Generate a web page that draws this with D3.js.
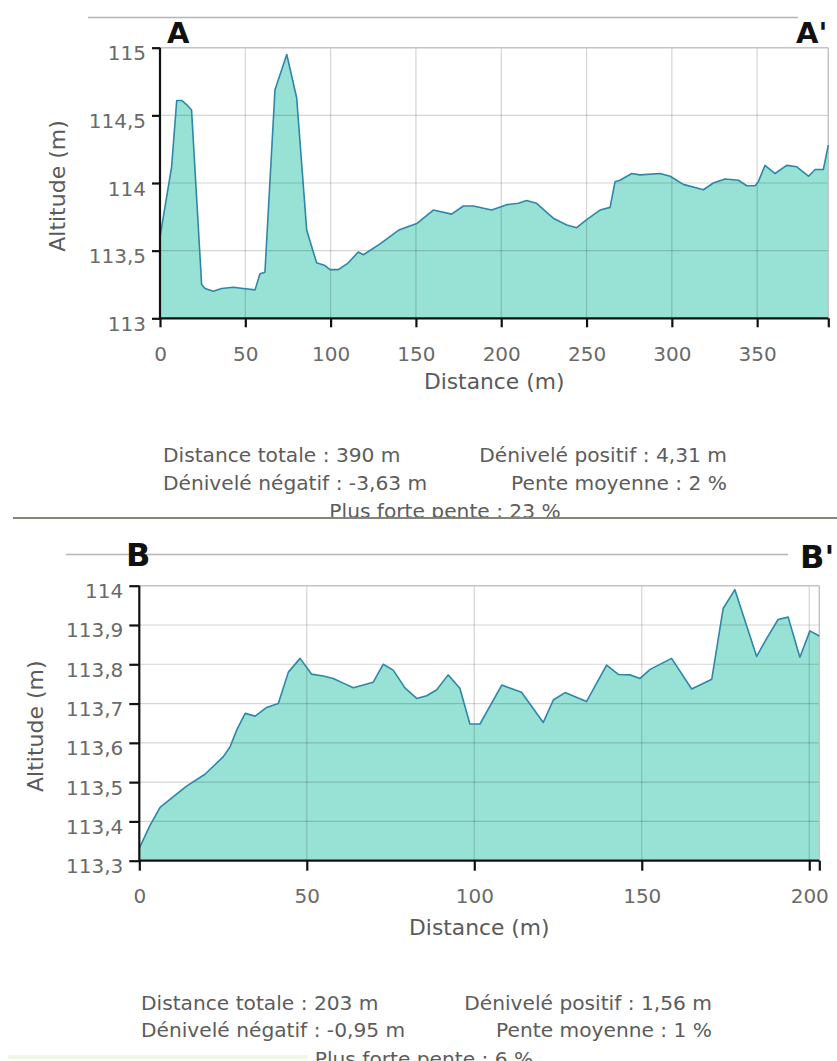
<!DOCTYPE html>
<html>
<head>
<meta charset="utf-8">
<script src="https://cdn.jsdelivr.net/npm/d3@7"></script>
<style>
  html, body { margin: 0; padding: 0; background: #fff; }
  svg { display: block; font-family: "DejaVu Sans", Verdana, sans-serif; }
</style>
</head>
<body>
<svg id="chart" width="837" height="1061"></svg>
<script>
// ---------- DATA ----------
const distA = [0, 6.8, 9.8, 12.7, 15.6, 18.5, 24.4, 26.4, 31.3, 36.1, 43, 48.8, 55.7, 58.6, 61.5, 67.4, 74.3, 80.1, 86, 91.8, 96.7, 99.6, 104.5, 110.4, 116.2, 119.2, 129, 139.7, 143.6, 150.5, 160.2, 170.9, 177.8, 183.7, 194.4, 203.2, 210, 214.8, 220.7, 230.5, 238.4, 244.2, 250.1, 257.9, 263.8, 266.7, 269.6, 276.5, 281.4, 293.1, 299, 306.7, 318.5, 324.3, 331.2, 339, 343.9, 348.8, 350.7, 354.6, 360.5, 367.3, 373.2, 380.1, 384, 388.8, 391.7];
const altA = [113.6, 114.12, 114.61, 114.61, 114.58, 114.54, 113.25, 113.22, 113.2, 113.22, 113.23, 113.22, 113.21, 113.33, 113.34, 114.69, 114.95, 114.63, 113.65, 113.41, 113.39, 113.36, 113.36, 113.41, 113.49, 113.47, 113.55, 113.65, 113.67, 113.7, 113.8, 113.77, 113.83, 113.83, 113.8, 113.84, 113.85, 113.87, 113.85, 113.74, 113.69, 113.67, 113.73, 113.8, 113.82, 114.01, 114.02, 114.07, 114.06, 114.07, 114.05, 113.99, 113.95, 114.0, 114.03, 114.02, 113.98, 113.98, 114.01, 114.13, 114.07, 114.13, 114.12, 114.05, 114.1, 114.1, 114.28];
const xTicksA = [0, 50, 100, 150, 200, 250, 300, 350];
const yTicksA = [113, 113.5, 114, 114.5, 115];
const statsA = ["Distance totale : 390 m", "Dénivelé positif : 4,31 m", "Dénivelé négatif : -3,63 m", "Pente moyenne : 2 %", "Plus forte pente : 23 %"];

const distB = [0, 3.2, 6.2, 11.2, 14.1, 19.6, 25.1, 27.1, 29.1, 31.6, 34.6, 38, 41.5, 44.5, 48, 51.4, 54.9, 57.9, 60.9, 63.9, 66.9, 69.8, 72.8, 75.8, 79.3, 82.8, 85.8, 88.8, 92.2, 95.7, 98.7, 101.7, 108.2, 114.1, 120.6, 123.6, 127.1, 133.5, 139.5, 143, 146.5, 149.5, 152.5, 158.9, 164.9, 170.9, 174.3, 177.8, 184.3, 187.3, 190.7, 193.7, 197.2, 200.2, 203];
const altB = [113.332, 113.39, 113.436, 113.47, 113.49, 113.52, 113.565, 113.59, 113.633, 113.675, 113.668, 113.69, 113.70, 113.78, 113.815, 113.775, 113.77, 113.764, 113.752, 113.74, 113.747, 113.754, 113.80, 113.785, 113.74, 113.713, 113.72, 113.735, 113.773, 113.739, 113.648, 113.648, 113.747, 113.729, 113.652, 113.709, 113.728, 113.705, 113.798, 113.774, 113.773, 113.764, 113.787, 113.815, 113.737, 113.762, 113.942, 113.99, 113.82, 113.866, 113.914, 113.92, 113.818, 113.885, 113.872];
const xTicksB = [0, 50, 100, 150, 200];
const yTicksB = [113.3, 113.4, 113.5, 113.6, 113.7, 113.8, 113.9, 114];
const statsB = ["Distance totale : 203 m", "Dénivelé positif : 1,56 m", "Dénivelé négatif : -0,95 m", "Pente moyenne : 1 %", "Plus forte pente : 6 %"];

const labelsA = ["A", "A'"];
const labelsB = ["B", "B'"];
const axisTitles = ["Distance (m)", "Altitude (m)"];

// ---------- DRAWING ----------
const svg = d3.select("#chart");
const fmt = d => String(+(+d).toFixed(1)).replace(".", ",");

function drawProfile(dist, alt, xTicks, yTicks, stats, labels, L) {
  const g = svg.append("g");
  const xMax = dist[dist.length - 1];
  const x = d3.scaleLinear().domain([0, xMax]).range([L.left, L.right]);
  const y = d3.scaleLinear().domain([yTicks[0], yTicks[yTicks.length - 1]]).range([L.bottom, L.top]);
  const pts = dist.map((d, i) => [d, alt[i]]);

  // header line + letters
  g.append("line").attr("x1", L.hx1).attr("x2", L.hx2).attr("y1", L.hy).attr("y2", L.hy)
    .attr("stroke", "#b5b5b5").attr("stroke-width", 1.5);
  g.append("text").attr("x", L.lx).attr("y", L.ly).text(labels[0])
    .attr("font-weight", "bold").attr("font-size", L.lsize).attr("fill", "#111");
  g.append("text").attr("x", L.rx).attr("y", L.ry).text(labels[1])
    .attr("font-weight", "bold").attr("font-size", L.lsize).attr("fill", "#111");

  // area
  const area = d3.area().x(d => x(d[0])).y0(y.range()[0]).y1(d => y(d[1]));
  const line = d3.line().x(d => x(d[0])).y(d => y(d[1]));
  g.append("path").datum(pts).attr("d", area).attr("fill", "#98e2d5");

  // grid
  const grid = g.append("g").attr("stroke", "#000").attr("stroke-opacity", 0.17).attr("stroke-width", 1.2);
  xTicks.filter(t => t > 0).forEach(t => {
    grid.append("line").attr("x1", x(t)).attr("x2", x(t)).attr("y1", L.top).attr("y2", L.bottom);
  });
  yTicks.slice(1, -1).forEach(t => {
    grid.append("line").attr("x1", L.left).attr("x2", L.right).attr("y1", y(t)).attr("y2", y(t));
  });
  // frame top & right
  g.append("line").attr("x1", L.left).attr("x2", L.right).attr("y1", L.top).attr("y2", L.top)
    .attr("stroke", "#c4c4c4").attr("stroke-width", 1.5);
  g.append("line").attr("x1", L.right).attr("x2", L.right).attr("y1", L.top).attr("y2", L.bottom)
    .attr("stroke", "#c4c4c4").attr("stroke-width", 1.5);

  // profile line
  g.append("path").datum(pts).attr("d", line).attr("fill", "none")
    .attr("stroke", "#2e86a8").attr("stroke-width", 1.6).attr("stroke-linejoin", "round");

  // axes
  const xAxis = d3.axisBottom(x).tickValues(xTicks.concat([xMax]))
    .tickFormat(d => d === xMax ? "" : String(d)).tickSize(L.xTick).tickPadding(L.xPad);
  const gx = g.append("g").attr("transform", `translate(0,${L.bottom})`).call(xAxis);
  const yAxis = d3.axisLeft(y).tickValues(yTicks).tickFormat(fmt).tickSize(L.yTick).tickPadding(L.yPad);
  const gy = g.append("g").attr("transform", `translate(${L.left},0)`).call(yAxis);
  [gx, gy].forEach(a => {
    a.select(".domain").attr("stroke", "#111").attr("stroke-width", 2.2);
    a.selectAll(".tick line").attr("stroke", "#111").attr("stroke-width", 2.2);
    a.selectAll(".tick text").attr("fill", "#6a6a6a").attr("font-size", 20)
      .attr("font-family", "DejaVu Sans, sans-serif");
  });
  gx.select(".domain").attr("d", `M${L.left},0H${L.right}`);
  gy.select(".domain").attr("d", `M0,${L.bottom}V${L.top}`);
  gy.selectAll(".tick text").attr("dy", "0.6em");
  gx.selectAll(".tick text").attr("dy", "0.71em");

  // axis titles
  g.append("text").attr("x", (L.left + L.right) / 2).attr("y", L.xtY).attr("text-anchor", "middle")
    .attr("font-size", 21.8).attr("fill", "#5a5a5a").text(axisTitles[0]);
  g.append("text").attr("transform", `translate(${L.ytX},${(L.top + L.bottom) / 2 + 3}) rotate(-90)`)
    .attr("text-anchor", "middle").attr("dy", "0.35em")
    .attr("font-size", 22).attr("fill", "#5a5a5a").text(axisTitles[1]);

  // stats
  const st = g.append("g").attr("font-size", 20.2).attr("fill", "#5c5c5c");
  st.append("text").attr("x", L.sL).attr("y", L.s1).text(stats[0]);
  st.append("text").attr("x", L.sR).attr("y", L.s1).attr("text-anchor", "end").text(stats[1]);
  st.append("text").attr("x", L.sL).attr("y", L.s2).text(stats[2]);
  st.append("text").attr("x", L.sR).attr("y", L.s2).attr("text-anchor", "end").text(stats[3]);
  const clipId = "clip" + Math.round(L.s3);
  svg.append("clipPath").attr("id", clipId).append("rect")
    .attr("x", 0).attr("y", 0).attr("width", 837).attr("height", L.clip);
  st.append("text").attr("x", L.sC).attr("y", L.s3).attr("text-anchor", "middle")
    .attr("clip-path", `url(#${clipId})`).text(stats[4]);
}

drawProfile(distA, altA, xTicksA, yTicksA, statsA, labelsA, {
  left: 160, right: 828.3, top: 47.7, bottom: 318.3,
  hx1: 88, hx2: 798, hy: 17.5, lx: 167, ly: 43, rx: 796, ry: 43, lsize: 29,
  xTick: 9, xPad: 20, yTick: 8, yPad: 6,
  xtY: 389, ytX: 57,
  sL: 163, sR: 727, sC: 445, s1: 462, s2: 490, s3: 518, clip: 517
});

drawProfile(distB, altB, xTicksB, yTicksB, statsB, labelsB, {
  left: 139.3, right: 819.3, top: 585.7, bottom: 860.7,
  hx1: 66, hx2: 788, hy: 554.5, lx: 126, ly: 566, rx: 800, ry: 568, lsize: 32,
  xTick: 10, xPad: 18, yTick: 10, yPad: 6,
  xtY: 935, ytX: 35,
  sL: 141, sR: 712, sC: 424, s1: 1010, s2: 1037, s3: 1066, clip: 1061
});

// separator between the two profiles
svg.append("line").attr("x1", 13).attr("x2", 837).attr("y1", 518).attr("y2", 518)
  .attr("stroke", "#85857a").attr("stroke-width", 2);
// faint strip at the very bottom
svg.append("rect").attr("x", 8).attr("y", 1055).attr("width", 300).attr("height", 4)
  .attr("fill", "#eef8e6");
</script>
</body>
</html>
